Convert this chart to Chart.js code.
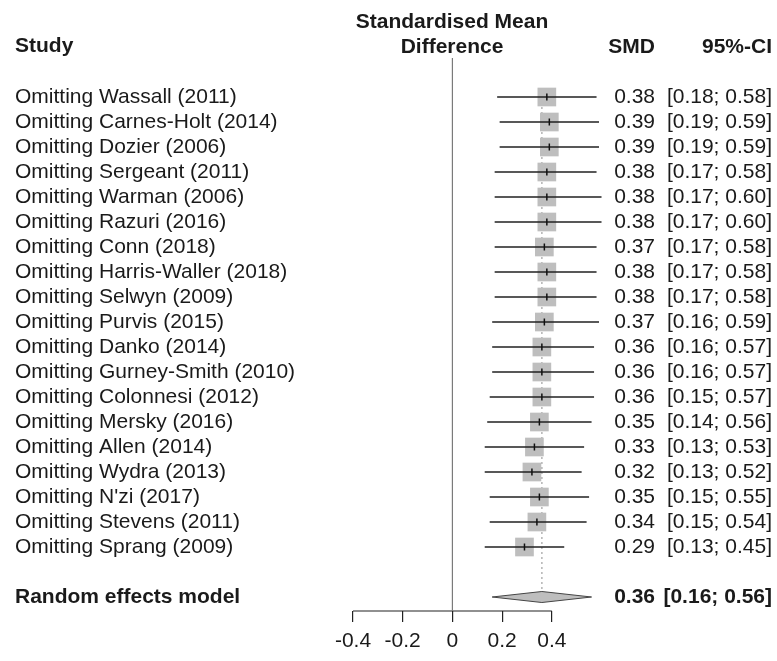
<!DOCTYPE html>
<html>
<head>
<meta charset="utf-8">
<script src="https://cdn.jsdelivr.net/npm/chart.js@4"></script>
<style>
  html, body { margin: 0; padding: 0; background: #fff; }
  #forest { display: block; }
</style>
</head>
<body>
<canvas id="forest" width="777" height="661"></canvas>
<script>
// leave-one-out results, top to bottom
const studies = [
  'Omitting Wassall (2011)', 'Omitting Carnes-Holt (2014)', 'Omitting Dozier (2006)',
  'Omitting Sergeant (2011)', 'Omitting Warman (2006)', 'Omitting Razuri (2016)',
  'Omitting Conn (2018)', 'Omitting Harris-Waller (2018)', 'Omitting Selwyn (2009)',
  'Omitting Purvis (2015)', 'Omitting Danko (2014)', 'Omitting Gurney-Smith (2010)',
  'Omitting Colonnesi (2012)', 'Omitting Mersky (2016)', 'Omitting Allen (2014)',
  'Omitting Wydra (2013)', "Omitting N'zi (2017)", 'Omitting Stevens (2011)',
  'Omitting Sprang (2009)'
];
const smd    = [0.38, 0.39, 0.39, 0.38, 0.38, 0.38, 0.37, 0.38, 0.38, 0.37, 0.36, 0.36, 0.36, 0.35, 0.33, 0.32, 0.35, 0.34, 0.29];
const ciLow  = [0.18, 0.19, 0.19, 0.17, 0.17, 0.17, 0.17, 0.17, 0.17, 0.16, 0.16, 0.16, 0.15, 0.14, 0.13, 0.13, 0.15, 0.15, 0.13];
const ciHigh = [0.58, 0.59, 0.59, 0.58, 0.60, 0.60, 0.58, 0.58, 0.58, 0.59, 0.57, 0.57, 0.57, 0.56, 0.53, 0.52, 0.55, 0.54, 0.45];

const pooledLabel = 'Random effects model';
const pooledSmd = 0.36;
const pooledLow = 0.16;
const pooledHigh = 0.56;

const xTicks = [-0.4, -0.2, 0, 0.2, 0.4];
const xTickLabels = ['-0.4', '-0.2', '0', '0.2', '0.4'];

const FONT = '"Liberation Sans", Arial, Helvetica, sans-serif';
const FS = 21;
const pooledRow = studies.length + 1;
const yMin = -1.56, yMax = 20.56;
// plot area runs past the axis so the estimates on the right are not clipped
const xMin = -0.4, xMax = 1.253;

// build point lists from the arrays
var ciPoints = [];
var sqPoints = [];
studies.forEach(function(s, i) {
  ciPoints.push({x: ciLow[i], y: i}, {x: ciHigh[i], y: i}, {x: NaN, y: NaN});
  sqPoints.push({x: smd[i], y: i});
});
var dh = 0.22; // half height of diamond in rows
var diamondTop = [
  {x: pooledLow, y: pooledRow}, {x: pooledSmd, y: pooledRow - dh}, {x: pooledHigh, y: pooledRow}
];
var diamondBottom = [
  {x: pooledLow, y: pooledRow}, {x: pooledSmd, y: pooledRow + dh}, {x: pooledHigh, y: pooledRow}
];

// columns of text drawn next to the plot
const textPlugin = {
  id: 'forestText',
  afterDraw: function(chart) {
    var ctx = chart.ctx;
    var y = chart.scales.y;
    ctx.save();
    ctx.fillStyle = '#1a1a1a';
    ctx.textBaseline = 'middle';

    ctx.font = 'bold ' + FS + 'px ' + FONT;
    ctx.textAlign = 'left';
    ctx.fillText('Study', 15, 46);
    ctx.textAlign = 'center';
    ctx.fillText('Standardised Mean', 452, 22);
    ctx.fillText('Difference', 452, 47);
    ctx.textAlign = 'right';
    ctx.fillText('SMD', 655, 47);
    ctx.fillText('95%-CI', 772, 47);

    ctx.font = FS + 'px ' + FONT;
    studies.forEach(function(s, i) {
      var py = y.getPixelForValue(i);
      ctx.textAlign = 'left';
      ctx.fillText(s, 15, py);
      ctx.textAlign = 'right';
      ctx.fillText(smd[i].toFixed(2), 655, py);
      ctx.fillText('[' + ciLow[i].toFixed(2) + '; ' + ciHigh[i].toFixed(2) + ']', 772, py);
    });

    var pp = y.getPixelForValue(pooledRow);
    ctx.font = 'bold ' + FS + 'px ' + FONT;
    ctx.textAlign = 'left';
    ctx.fillText(pooledLabel, 15, pp);
    ctx.textAlign = 'right';
    ctx.fillText(pooledSmd.toFixed(2), 655, pp);
    ctx.fillText('[' + pooledLow.toFixed(2) + '; ' + pooledHigh.toFixed(2) + ']', 772, pp);
    ctx.restore();
  }
};

const ctx = document.getElementById('forest').getContext('2d');
const forest = new Chart(ctx, {
  type: 'scatter',
  data: {
    datasets: [
      {
        // axis line, only across the ticked range
        data: [{x: xTicks[0], y: yMax}, {x: xTicks[xTicks.length - 1], y: yMax}],
        showLine: true, borderColor: '#222', borderWidth: 1.2,
        pointRadius: 0, clip: false, order: 8
      },
      {
        // line of no effect
        data: [{x: 0, y: yMin}, {x: 0, y: yMax}],
        showLine: true, borderColor: '#7a7a7a', borderWidth: 1.2,
        pointRadius: 0, clip: false, order: 7
      },
      {
        // pooled estimate, dotted
        data: [{x: pooledSmd, y: 0}, {x: pooledSmd, y: pooledRow - dh}],
        showLine: true, borderColor: '#b4b4b4', borderWidth: 1.5, borderDash: [2, 3],
        pointRadius: 0, clip: false, order: 6
      },
      {
        data: sqPoints,
        pointStyle: 'rect', pointRadius: 13.2, backgroundColor: '#bebebe',
        borderWidth: 0, clip: false, order: 5
      },
      {
        data: ciPoints,
        showLine: true, spanGaps: false, borderColor: '#222', borderWidth: 1.3,
        pointRadius: 0, clip: false, order: 4
      },
      {
        data: sqPoints,
        pointStyle: 'line', rotation: 90, pointRadius: 3.5, borderColor: '#111',
        borderWidth: 1.5, clip: false, order: 3
      },
      {
        data: diamondTop,
        showLine: true, fill: '+1', backgroundColor: '#bebebe', borderColor: '#444',
        borderWidth: 1, tension: 0, pointRadius: 0, clip: false, order: 2
      },
      {
        data: diamondBottom,
        showLine: true, fill: false, borderColor: '#444',
        borderWidth: 1, tension: 0, pointRadius: 0, clip: false, order: 1
      }
    ]
  },
  options: {
    responsive: false,
    animation: false,
    devicePixelRatio: 1,
    layout: { padding: { top: 58, left: 353, right: 5, bottom: 0 } },
    plugins: { legend: { display: false }, tooltip: { enabled: false }, filler: { drawTime: 'beforeDatasetsDraw' } },
    scales: {
      x: {
        type: 'linear', min: xMin, max: xMax,
        afterBuildTicks: function(axis) {
          axis.ticks = xTicks.map(function(v) { return {value: v}; });
        },
        border: { display: false },
        grid: { drawOnChartArea: false, drawTicks: true, tickLength: 11, color: '#222', lineWidth: 1.2 },
        ticks: {
          color: '#1a1a1a', padding: 9, maxRotation: 0,
          font: { size: FS, family: FONT, lineHeight: 1 },
          callback: function(v, i) { return xTickLabels[i]; }
        }
      },
      y: { type: 'linear', reverse: true, min: yMin, max: yMax, display: false }
    }
  },
  plugins: [textPlugin]
});
</script>
</body>
</html>
